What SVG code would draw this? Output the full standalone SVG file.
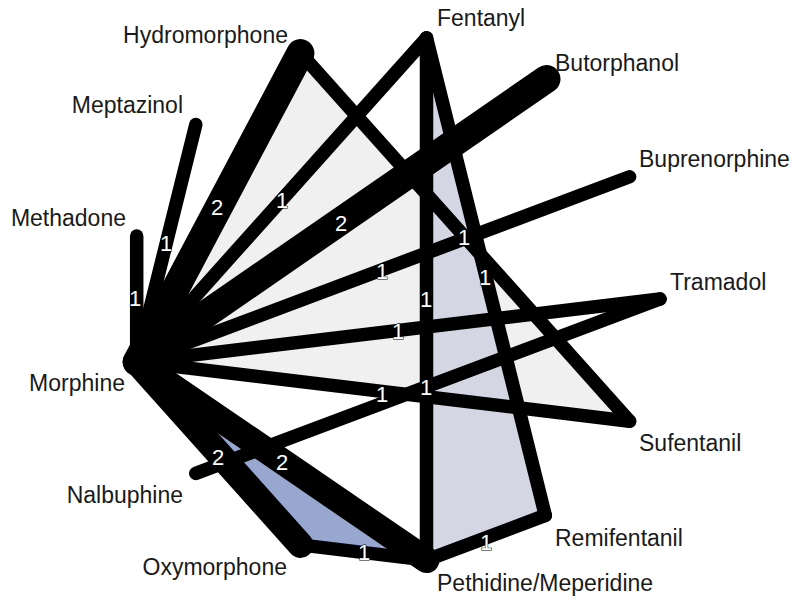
<svg xmlns="http://www.w3.org/2000/svg" width="791" height="597" viewBox="0 0 791 597">
<style>
.e{stroke:#000;stroke-linecap:round;stroke-linejoin:round;fill:none}
.w1{stroke-width:13.5}
.w2{stroke-width:26}
.w3{stroke-width:28}
.n{font-family:"Liberation Sans",Arial,sans-serif;font-size:23px;fill:#1a1a1a}
.r{text-anchor:end}
.l{font-family:"Liberation Sans",Arial,sans-serif;font-size:22px;fill:#fff;stroke:#000;stroke-width:1;paint-order:stroke;text-anchor:middle}
</style>
<rect width="791" height="597" fill="#fff"/>
<g id="loops">
<polygon points="136.7,361.9 300.4,53.1 629.6,421.2" fill="#f0f0f0"/>
<polygon points="426.5,37.9 426.5,560.1 545.3,515.4" fill="#d4d6e4"/>
<polygon points="136.7,361.9 300.4,544.9 426.5,560.1" fill="#97a7d0"/>
</g>
<g id="connectors">
<line class="e w1" x1="136.7" y1="361.9" x2="136.7" y2="236.1"/>
<line class="e w1" x1="136.7" y1="361.9" x2="195.8" y2="124.6"/>
<line class="e w1" x1="136.7" y1="361.9" x2="426.5" y2="37.9"/>
<line class="e w1" x1="136.7" y1="361.9" x2="629.6" y2="176.8"/>
<line class="e w1" x1="136.7" y1="361.9" x2="660" y2="299"/>
<line class="e w1" x1="136.7" y1="361.9" x2="629.6" y2="421.2"/>
<line class="e w1" x1="300.4" y1="53.1" x2="629.6" y2="421.2"/>
<line class="e w1" x1="426.5" y1="37.9" x2="426.5" y2="560.1"/>
<line class="e w1" x1="426.5" y1="37.9" x2="545.3" y2="515.4"/>
<line class="e w1" x1="426.5" y1="560.1" x2="545.3" y2="515.4"/>
<line class="e w1" x1="300.4" y1="544.9" x2="426.5" y2="560.1"/>
<line class="e w1" x1="195.8" y1="473.4" x2="660" y2="299"/>
<line class="e w3" x1="136.7" y1="361.9" x2="300.4" y2="53.1"/>
<line class="e w3" x1="136.7" y1="361.9" x2="546.5" y2="79"/>
<line class="e w2" x1="136.7" y1="361.9" x2="300.4" y2="544.9"/>
<line class="e w2" x1="136.7" y1="361.9" x2="426.5" y2="560.1"/>
<g id="edge-labels">
<text class="l" x="135" y="306">1</text>
<text class="l" x="166" y="251">1</text>
<text class="l" x="217" y="215">2</text>
<text class="l" x="282" y="208">1</text>
<text class="l" x="341" y="231">2</text>
<text class="l" x="382" y="279">1</text>
<text class="l" x="398" y="339">1</text>
<text class="l" x="382" y="402">1</text>
<text class="l" x="426" y="395">1</text>
<text class="l" x="218" y="465">2</text>
<text class="l" x="282" y="470">2</text>
<text class="l" x="364" y="560">1</text>
<text class="l" x="486" y="550">1</text>
<text class="l" x="426" y="307">1</text>
<text class="l" x="485" y="285">1</text>
<text class="l" x="464" y="245">1</text>
</g>
</g>
<g id="node-tramadol"><text class="n" x="670" y="290">Tramadol</text></g>
<g id="node-buprenorphine"><text class="n" x="639" y="167">Buprenorphine</text></g>
<g id="node-butorphanol"><text class="n" x="555" y="71">Butorphanol</text></g>
<g id="node-fentanyl"><text class="n" x="437" y="26">Fentanyl</text></g>
<g id="node-hydromorphone"><text class="n r" x="288" y="43">Hydromorphone</text></g>
<g id="node-meptazinol"><text class="n r" x="183" y="113">Meptazinol</text></g>
<g id="node-methadone"><text class="n r" x="126" y="226">Methadone</text></g>
<g id="node-morphine"><text class="n r" x="125" y="391">Morphine</text></g>
<g id="node-nalbuphine"><text class="n r" x="183" y="503">Nalbuphine</text></g>
<g id="node-oxymorphone"><text class="n r" x="287" y="575">Oxymorphone</text></g>
<g id="node-pethidine"><text class="n" x="437" y="591">Pethidine/Meperidine</text></g>
<g id="node-remifentanil"><text class="n" x="555" y="546">Remifentanil</text></g>
<g id="node-sufentanil"><text class="n" x="639" y="451">Sufentanil</text></g>
</svg>
